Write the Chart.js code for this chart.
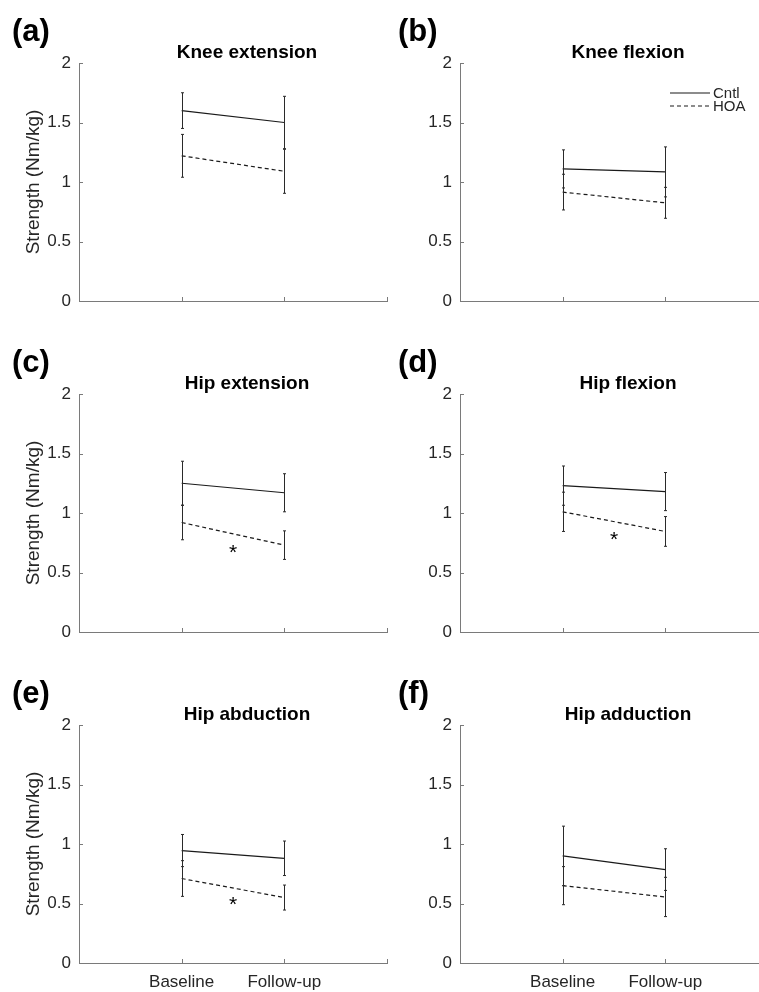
<!DOCTYPE html>
<html><head><meta charset="utf-8">
<script src="https://cdn.jsdelivr.net/npm/chart.js@4.4.0/dist/chart.umd.min.js"></script>
<style>
html,body{margin:0;padding:0;background:#fff;width:759px;height:992px;overflow:hidden;position:relative;}
canvas{position:absolute;}
.lab{position:absolute;font-family:"Liberation Sans",Arial,sans-serif;font-weight:bold;font-size:31px;line-height:31px;color:#000;white-space:nowrap;}
</style></head><body>
<script>
// ---- data ----
const timepoints = ['Baseline', 'Follow-up'];
const xTickLabels = ['', 'Baseline', 'Follow-up', ''];
const yTickValues = [0, 0.5, 1, 1.5, 2];
const yTickLabels = ['0', '0.5', '1', '1.5', '2'];
const seriesNames = ['Cntl', 'HOA'];
const panelLetters = ['(a)', '(b)', '(c)', '(d)', '(e)', '(f)'];
const panelTitles = ['Knee extension', 'Knee flexion', 'Hip extension', 'Hip flexion', 'Hip abduction', 'Hip adduction'];
const cntlMean = [[1.60, 1.50], [1.11, 1.085], [1.25, 1.17], [1.23, 1.18], [0.945, 0.88], [0.90, 0.785]];
const cntlSD   = [[0.15, 0.22], [0.16, 0.21], [0.185, 0.16], [0.165, 0.16], [0.135, 0.145], [0.25, 0.175]];
const hoaMean  = [[1.22, 1.09], [0.915, 0.825], [0.92, 0.73], [1.01, 0.845], [0.71, 0.55], [0.65, 0.555]];
const hoaSD    = [[0.18, 0.185], [0.15, 0.13], [0.145, 0.12], [0.165, 0.125], [0.15, 0.105], [0.16, 0.165]];
const starX = [null, null, 1.5, 1.5, 1.5, null];
const starY = [null, null, 0.715, 0.825, 0.535, null];

// ---- layout (styling only) ----
const FONT = '"Liberation Sans", Arial, sans-serif';
const AXIS_COLOR = '#7a7a7a';
const TEXT_COLOR = '#262626';
const LINE_COLOR = '#1a1a1a';
const colLeft = [0, 380];
const axisLeft = [79, 460];
const rowTop = [0, 331, 662];
const rowHeight = [331, 331, 330];
const PLOT_TOP = 63, PLOT_H = 238, PLOT_W = 308, CANVAS_W = 400, XSCALE_H = 29;

const decor = {
  id: 'decor',
  afterDraw(chart, args, opts) {
    const p = opts.panel;
    const ctx = chart.ctx;
    const xs = chart.scales.x, ys = chart.scales.y;
    const ca = chart.chartArea;
    ctx.save();
    // inward tick marks
    ctx.strokeStyle = AXIS_COLOR;
    ctx.lineWidth = 1;
    ctx.beginPath();
    yTickValues.forEach(v => {
      const y = Math.round(ys.getPixelForValue(v)) + 0.5;
      ctx.moveTo(ca.left, y); ctx.lineTo(ca.left + 4, y);
    });
    xTickLabels.forEach((t, i) => {
      const x = Math.round(xs.getPixelForValue(i)) + 0.5;
      ctx.moveTo(x, ca.bottom); ctx.lineTo(x, ca.bottom - 4);
    });
    ctx.stroke();
    // error bars
    ctx.strokeStyle = '#2a2a2a';
    ctx.lineWidth = 1;
    const bars = [[cntlMean[p], cntlSD[p]], [hoaMean[p], hoaSD[p]]];
    bars.forEach(([m, s]) => {
      m.forEach((v, k) => {
        const x = Math.round(xs.getPixelForValue(k + 1)) + 0.5;
        const yHi = ys.getPixelForValue(v + s[k]);
        const yLo = ys.getPixelForValue(v - s[k]);
        ctx.beginPath();
        ctx.moveTo(x, yHi); ctx.lineTo(x, yLo);
        ctx.moveTo(x - 1.5, yHi); ctx.lineTo(x + 1.5, yHi);
        ctx.moveTo(x - 1.5, yLo); ctx.lineTo(x + 1.5, yLo);
        ctx.stroke();
      });
    });
    // significance star
    if (starX[p] !== null) {
      ctx.fillStyle = '#000';
      ctx.font = '21px ' + FONT;
      ctx.textAlign = 'center';
      ctx.textBaseline = 'alphabetic';
      ctx.fillText('*', xs.getPixelForValue(starX[p]), ys.getPixelForValue(starY[p]) + 12);
    }
    // title
    ctx.fillStyle = '#000';
    ctx.font = 'bold 19px ' + FONT;
    ctx.textAlign = 'center';
    ctx.textBaseline = 'alphabetic';
    ctx.fillText(panelTitles[p], ca.left + 168, ca.top - 5);
    // legend (panel b)
    if (p === 1) {
      ctx.strokeStyle = LINE_COLOR;
      ctx.lineWidth = 1.2;
      ctx.font = '15px ' + FONT;
      ctx.textAlign = 'left';
      ctx.textBaseline = 'middle';
      ctx.fillStyle = TEXT_COLOR;
      seriesNames.forEach((name, i) => {
        const y = ca.top + 30 + i * 13;
        ctx.setLineDash(i === 0 ? [] : [4, 3]);
        ctx.beginPath();
        ctx.moveTo(ca.left + 210, y); ctx.lineTo(ca.left + 250, y);
        ctx.stroke();
        ctx.setLineDash([]);
        ctx.fillText(name, ca.left + 253, y + 1);
      });
    }
    ctx.restore();
  }
};

for (let p = 0; p < 6; p++) {
  const col = p % 2, row = Math.floor(p / 2);
  const cv = document.createElement('canvas');
  cv.width = CANVAS_W; cv.height = rowHeight[row];
  cv.style.left = colLeft[col] + 'px';
  cv.style.top = rowTop[row] + 'px';
  cv.style.width = CANVAS_W + 'px';
  cv.style.height = rowHeight[row] + 'px';
  document.body.appendChild(cv);

  const lab = document.createElement('div');
  lab.className = 'lab';
  lab.textContent = panelLetters[p];
  lab.style.left = (col === 0 ? 12 : 398) + 'px';
  lab.style.top = (rowTop[row] + 15) + 'px';
  document.body.appendChild(lab);

  const yW = axisLeft[col] - colLeft[col];
  const padRight = CANVAS_W - yW - PLOT_W;
  const padBottom = rowHeight[row] - PLOT_TOP - PLOT_H - XSCALE_H;

  new Chart(cv, {
    type: 'line',
    data: {
      datasets: [
        { label: seriesNames[0], data: cntlMean[p].map((v, k) => ({ x: k + 1, y: v })),
          borderColor: LINE_COLOR, borderWidth: 1.2, pointRadius: 0, fill: false, tension: 0 },
        { label: seriesNames[1], data: hoaMean[p].map((v, k) => ({ x: k + 1, y: v })),
          borderColor: LINE_COLOR, borderWidth: 1.2, borderDash: [4, 3], pointRadius: 0, fill: false, tension: 0 }
      ]
    },
    options: {
      responsive: false,
      animation: false,
      devicePixelRatio: 1,
      layout: { padding: { left: 0, top: PLOT_TOP, right: padRight, bottom: padBottom } },
      plugins: { legend: { display: false }, tooltip: { enabled: false }, title: { display: false }, decor: { panel: p } },
      scales: {
        x: {
          type: 'linear', min: 0, max: 3,
          afterBuildTicks: s => { s.ticks = xTickLabels.map((t, i) => ({ value: i })); },
          afterFit: s => { s.height = XSCALE_H; },
          grid: { display: false, drawTicks: false },
          border: { display: true, color: AXIS_COLOR, width: 1 },
          ticks: {
            padding: 9, maxRotation: 0, autoSkip: false, color: TEXT_COLOR,
            font: { family: FONT, size: 17 },
            callback: (v, i) => row === 2 ? xTickLabels[i] : ''
          }
        },
        y: {
          type: 'linear', min: 0, max: 2,
          afterBuildTicks: s => { s.ticks = yTickValues.map(v => ({ value: v })); },
          afterFit: s => { s.width = yW; },
          grid: { display: false, drawTicks: false },
          border: { display: true, color: AXIS_COLOR, width: 1 },
          ticks: { padding: 8, color: TEXT_COLOR, font: { family: FONT, size: 17 },
            callback: (v, i) => yTickLabels[i] },
          title: {
            display: col === 0, text: 'Strength (Nm/kg)', color: TEXT_COLOR,
            font: { family: FONT, size: 19 }, padding: { top: 22, bottom: 0 }
          }
        }
      }
    },
    plugins: [decor]
  });
}
</script>
</body></html>
